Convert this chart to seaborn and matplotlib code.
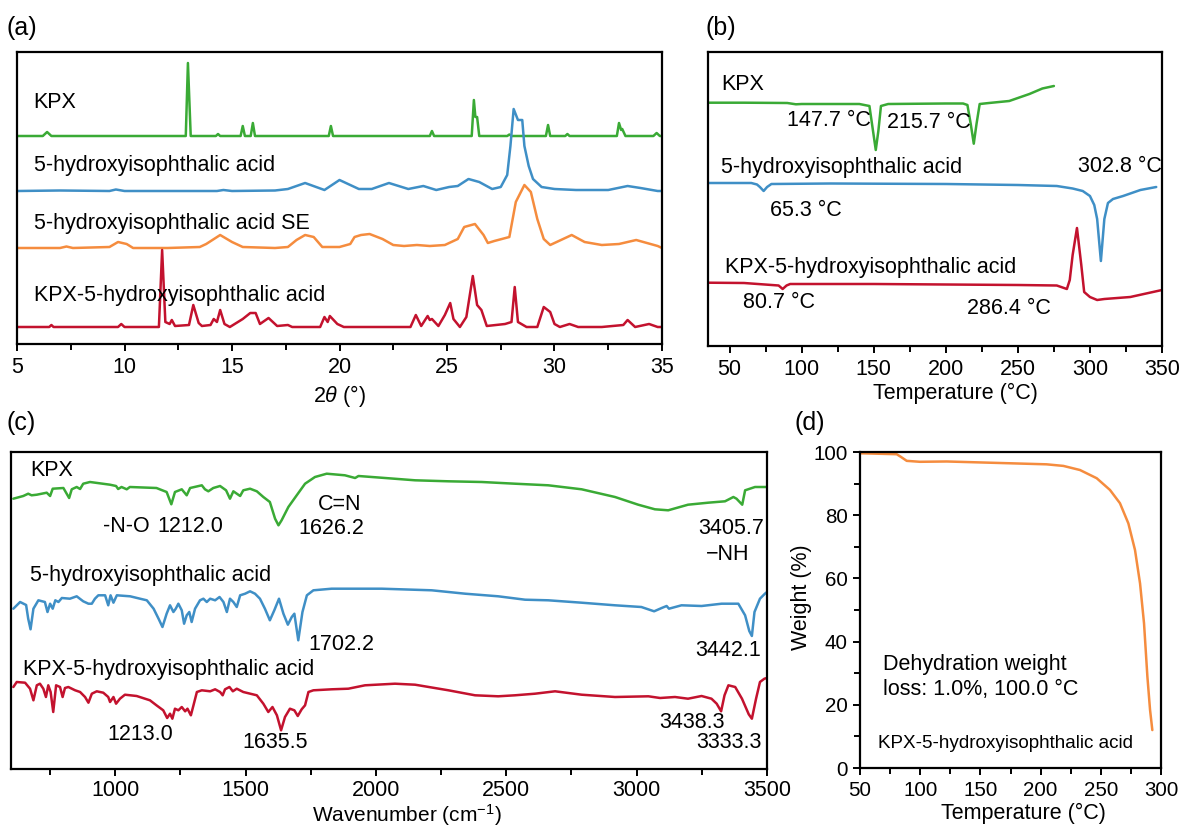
import numpy as np
import pandas as pd
import matplotlib
matplotlib.use("Agg")
import matplotlib.pyplot as plt
import seaborn as sns
from matplotlib.ticker import MultipleLocator

sns.set_style("ticks")
plt.rcParams['font.family'] = ['Liberation Sans', 'DejaVu Sans']
plt.rcParams['mathtext.fontset'] = 'custom'
plt.rcParams['mathtext.rm'] = 'Liberation Sans'
plt.rcParams['mathtext.it'] = 'Liberation Sans:italic'
plt.rcParams['axes.unicode_minus'] = True
for k in ['text.color', 'axes.labelcolor', 'xtick.color', 'ytick.color', 'axes.edgecolor']:
    plt.rcParams[k] = 'black'

# ---------------- colours ----------------
GREEN = "#3aaa35"
BLUE = "#3f8fc6"
ORANGE = "#f58c3e"
RED = "#c3122e"

# ---------------- (a) XRD data (intensity above each pattern's baseline, a.u.) ----------------
xrd_kpx_2theta = [5.0, 6.2, 6.4, 6.6, 12.85, 12.95, 13.08, 14.25, 14.35, 14.45, 15.4, 15.5, 15.6,
                  15.87, 15.97, 16.07, 19.5, 19.6, 19.7, 24.2, 24.3, 24.4, 26.15, 26.25, 26.32,
                  26.4, 26.5, 27.8, 27.9, 28.0, 29.6, 29.7, 29.8, 30.5, 30.6, 30.7, 32.9, 33.0,
                  33.1, 33.15, 33.3, 34.6, 34.75, 34.9, 35.0]
xrd_kpx_int = [0, 0, 4, 0, 0, 73, 0, 0, 2, 0, 0, 10, 0, 0, 13, 0, 0, 10, 0, 0, 5, 0, 0, 36, 19,
               19, 0, 0, 1.5, 0, 0, 11, 0, 0, 2, 0, 0, 13, 6, 7, 0, 0, 3, 0, 0]

xrd_acid_2theta = [5.0, 7.0, 9.3, 9.6, 10.0, 12.0, 14.3, 14.6, 15.0, 17.0, 17.6, 18.4, 19.3, 20.0,
                   20.9, 21.5, 22.3, 23.2, 23.9, 24.5, 25.1, 25.5, 26.0, 26.5, 27.1, 27.5, 27.8,
                   27.95, 28.1, 28.3, 28.5, 28.6, 28.8, 29.0, 29.4, 30.0, 31.0, 32.5, 33.4, 34.0,
                   34.8, 35.0]
xrd_acid_int = [0, 0.5, 0, 1.5, 0, 0, 0, 1, 0, 0.5, 2, 8, 1, 11, 2, 2, 8, 2, 5, 1, 4, 5, 12, 9, 2,
                4, 16, 45, 82, 71, 71, 45, 25, 12, 4, 2, 1, 1, 5, 3, 0, 0]

xrd_se_2theta = [5.0, 7.0, 7.3, 7.6, 9.3, 9.7, 10.1, 10.4, 12.0, 13.5, 13.8, 14.45, 15.0, 15.5, 17.0,
                 17.6, 18.0, 18.4, 18.8, 19.2, 20.0, 20.5, 20.7, 21.0, 21.4, 22.0, 22.5, 23.0, 23.6,
                 24.2, 24.9, 25.5, 25.8, 26.3, 26.7, 26.9, 27.2, 27.9, 28.2, 28.6, 28.9, 29.2, 29.5,
                 29.8, 30.3, 30.8, 31.4, 32.2, 33.0, 33.8, 34.8, 35.0]
xrd_se_int = [0, 0, 1.5, 0, 1, 6, 4, 0, 0, 1, 4, 13, 6, 1, 0, 1, 8, 13, 11, 1, 1, 4, 11, 13, 14, 9,
              3, 2, 3, 2, 3, 9, 21, 24, 13, 5, 7, 11, 46, 63, 56, 29, 9, 3, 8, 13, 6, 3, 4, 8, 2, 0]

xrd_cocrystal_2theta = [5.0, 6.5, 6.6, 6.7, 9.7, 9.85, 10.0, 11.6, 11.75, 11.9, 12.1, 12.2, 12.35,
                        13.0, 13.2, 13.45, 13.6, 14.0, 14.15, 14.3, 14.45, 14.65, 14.9, 15.5, 15.85,
                        16.1, 16.3, 16.7, 17.1, 17.6, 17.8, 19.1, 19.3, 19.45, 19.55, 19.9, 20.2,
                        23.3, 23.55, 23.8, 24.1, 24.2, 24.3, 24.6, 24.9, 25.15, 25.3, 25.6, 25.9,
                        26.2, 26.4, 26.6, 26.85, 27.7, 28.0, 28.15, 28.3, 28.7, 29.2, 29.5, 29.8,
                        30.0, 30.25, 30.7, 31.1, 32.2, 33.2, 33.4, 33.75, 34.4, 34.8, 35.0]
xrd_cocrystal_int = [0, 0, 2, 0, 0, 3, 0, 0, 77, 5, 3, 7, 1, 2, 22, 4, 1, 2, 8, 5, 17, 3, 0, 8, 14,
                     14, 3, 9, 1, 2, 0, 0, 10, 5, 11, 3, 0, 0, 12, 1, 11, 7, 8, 1, 12, 24, 8, 0, 10,
                     51, 22, 17, 1, 3, 5, 40, 5, 0, 0, 20, 15, 3, 0, 3, 0, 0, 2, 7, 0, 3, 0, 0]

# ---------------- (b) DSC data (heat flow, a.u.) ----------------
dsc_kpx_T = [35, 60, 90, 96, 100, 140, 147, 149.5, 151.4, 153.2, 155, 160, 200, 212, 215, 217.3,
             219.4, 221.3, 223.5, 230, 244, 258, 267, 275]
dsc_kpx_hf = [243.3, 243.3, 243, 241.7, 242, 242, 240, 215, 196, 215, 240, 242, 242.5, 242.5, 241,
              222, 202.3, 222, 242, 243, 245, 252, 257.5, 260]

dsc_acid_T = [35, 65, 69, 71, 73.6, 76, 79, 120, 200, 250, 277, 288, 295, 300, 303, 305, 307.6,
              310, 312.5, 316, 323, 335, 346]
dsc_acid_hf = [163, 163, 161.5, 159, 155, 159, 162, 162.5, 162, 161, 160, 157.5, 155, 150, 141,
               127, 85, 127, 143, 147, 150, 156, 159]

dsc_cocrystal_T = [35, 60, 84, 86.8, 89.5, 92, 150, 250, 277, 284, 286, 288, 291, 294, 296, 300,
                   305, 310, 328, 350]
dsc_cocrystal_hf = [63.3, 63, 60.5, 57, 60.5, 62, 62, 61, 60.5, 57, 66, 91, 118, 81, 54, 49, 46,
                    47, 49, 56]

# ---------------- (c) FTIR data (transmittance, a.u.) ----------------
ir_kpx_wn = [609, 647, 666, 679, 699, 737, 750, 760, 801, 823, 833, 852, 865, 877, 903, 980, 1003,
             1011, 1024, 1044, 1056, 1158, 1197, 1215, 1229, 1255, 1274, 1287, 1332, 1344, 1357,
             1376, 1402, 1425, 1440, 1453, 1479, 1491, 1517, 1543, 1568, 1593, 1613, 1626, 1638,
             1664, 1696, 1728, 1766, 1811, 1881, 1920, 1933, 2035, 2150, 2278, 2406, 2533, 2661,
             2789, 2917, 3006, 3070, 3121, 3197, 3274, 3339, 3371, 3383, 3405, 3416, 3454, 3492,
             3500]
ir_kpx_t = [270.3, 273, 275.3, 273.7, 274.3, 276.3, 273, 280.3, 281, 271, 279.7, 282, 280, 285.3,
            287, 284.3, 283, 280, 282, 279.7, 282, 281, 277, 264.7, 277, 279.7, 273.7, 281, 283.7,
            279.7, 277.7, 281, 283, 278.7, 270.3, 277.7, 273, 278.7, 280.3, 277.7, 272, 267, 250.3,
            243.7, 248.7, 262, 273.7, 285.3, 292, 295.3, 293.7, 291, 293, 291, 288.7, 287.7, 287,
            285.3, 283.7, 279.7, 272, 264.3, 259.7, 258.7, 264.3, 266.3, 267.7, 272, 270.3, 264.3,
            278.7, 282, 282, 282]

ir_acid_wn = [609, 635, 658, 666, 675, 686, 705, 730, 740, 750, 760, 770, 782, 795, 826, 852, 877,
              897, 910, 922, 935, 961, 973, 982, 993, 1006, 1057, 1095, 1121, 1147, 1166, 1181,
              1197, 1210, 1223, 1232, 1242, 1255, 1264, 1274, 1284, 1293, 1306, 1325, 1338, 1351,
              1364, 1383, 1400, 1415, 1428, 1440, 1453, 1466, 1479, 1498, 1517, 1536, 1555, 1574,
              1593, 1610, 1628, 1645, 1662, 1677, 1687, 1702, 1718, 1735, 1760, 1830, 2022, 2214,
              2342, 2469, 2572, 2661, 2789, 2917, 3018, 3067, 3096, 3115, 3124, 3172, 3249, 3326,
              3390, 3416, 3432, 3442, 3452, 3473, 3492, 3500]
ir_acid_t = [160.3, 167, 164, 150.3, 139.7, 160.3, 168.7, 167, 157, 165.3, 160.3, 168.7, 167, 171,
             170.3, 172.7, 167.7, 165.3, 165.3, 170.3, 173.7, 173.7, 163.7, 173.7, 166.3, 173.7,
             172.7, 170.3, 168.7, 160.3, 150.3, 142, 155.3, 163.7, 157, 160.3, 165.3, 158.7, 145.3,
             153.7, 157, 147, 160.3, 168.7, 170.3, 167, 170.3, 168.7, 172, 167, 157, 170.3, 167,
             162, 173.7, 175.3, 177.7, 175.3, 170.3, 160.3, 148.7, 158.7, 170.3, 155.3, 144.3, 152,
             155.3, 128.7, 157, 173.7, 178.7, 180.3, 180.3, 178.7, 175.3, 172.7, 169.3, 168.7,
             166.3, 163.7, 162, 157.7, 161, 163, 160.3, 163.7, 163, 165.3, 165.3, 153.7, 138,
             133, 157, 170.3, 175.3, 177]

ir_cocrystal_wn = [609, 622, 654, 673, 686, 699, 711, 724, 734, 743, 752, 762, 773, 788, 798, 807,
                   820, 846, 865, 884, 897, 910, 929, 954, 973, 980, 993, 1003, 1018, 1037, 1082,
                   1133, 1158, 1184, 1199, 1210, 1219, 1229, 1242, 1255, 1268, 1277, 1290, 1300,
                   1313, 1332, 1364, 1383, 1402, 1412, 1421, 1438, 1451, 1466, 1491, 1543, 1568,
                   1587, 1603, 1620, 1636, 1651, 1670, 1687, 1700, 1715, 1728, 1741, 1760, 1830,
                   1894, 1958, 2073, 2150, 2278, 2380, 2469, 2533, 2610, 2687, 2789, 2917, 3045,
                   3090, 3147, 3197, 3249, 3287, 3307, 3324, 3337, 3352, 3378, 3404, 3430, 3442,
                   3458, 3473, 3490, 3500]
ir_cocrystal_t = [82, 87, 86.3, 80.3, 68.7, 83.7, 85.3, 80.3, 72, 83.7, 77, 57, 83.7, 82, 72, 81,
                  82, 78.7, 77, 72, 66.3, 75.3, 77.7, 76.3, 72, 67, 72, 65.3, 70.3, 74.3, 73, 68.7,
                  63.7, 58.7, 51, 55.3, 50.3, 60.3, 58.7, 62, 57.7, 60.3, 53.7, 63.7, 77, 78.7, 77.7,
                  79.7, 77, 73.7, 79.7, 82, 77.7, 80.3, 77, 73.7, 65.3, 57, 62, 53.7, 38.7, 52,
                  60.3, 58.7, 53, 59.7, 63.7, 77, 78.7, 79.7, 80.3, 83.7, 85.3, 84.3, 78.7, 73.7,
                  72.7, 73.7, 75.3, 77.7, 74.3, 72, 72.7, 71, 72, 70.3, 73, 70.3, 65.3, 57.7, 73.7,
                  83.7, 82, 70.3, 54.7, 50.3, 70.3, 87, 90.3, 91]

# ---------------- (d) TGA data ----------------
tga_T = [50, 80.5, 83.8, 88.8, 99.8, 122, 149.7, 177.4, 205, 218.9, 232.7, 246.6, 257.6, 265.9,
         272.9, 278.4, 282.6, 285.9, 288.7, 290.9, 292.8]
tga_w = [99.6, 99.3, 98.5, 97.2, 96.9, 97.0, 96.7, 96.4, 96.1, 95.6, 94.3, 91.7, 88.0, 83.8, 77.4,
         69.0, 58.4, 45.8, 28.9, 18.4, 12.0]

# ---------------- layout constants ----------------
XRD_OFFSETS = [208, 153, 96, 17]

W, H = 1192, 830
fig = plt.figure(figsize=(W / 100, H / 100), dpi=100)


def rect(l, t, r, b):
    return [l / W, 1 - b / H, (r - l) / W, (b - t) / H]


axA = fig.add_axes(rect(17, 52, 662, 344))
axB = fig.add_axes(rect(708, 52, 1162, 346))
axC = fig.add_axes(rect(11, 452, 767, 769))
axD = fig.add_axes(rect(860, 452, 1161, 768))

LW = 1.8
TXT = 15.5
TICK = 15.5


def line(ax, x, y, color):
    df = pd.DataFrame({"x": x, "y": y})
    sns.lineplot(data=df, x="x", y="y", ax=ax, color=color, lw=LW, estimator=None,
                 sort=False, legend=False)


def style(ax, tick=TICK, pad=4):
    for s in ax.spines.values():
        s.set_linewidth(1.6)
        s.set_color("black")
    ax.tick_params(which="major", direction="out", length=5, width=1.4, labelsize=tick, pad=pad)
    ax.tick_params(which="minor", direction="out", length=4, width=1.4)
    ax.set_ylabel("")
    ax.set_xlabel("")


# ---- (a)
for (x, y, c), off in zip([(xrd_kpx_2theta, xrd_kpx_int, GREEN),
                           (xrd_acid_2theta, xrd_acid_int, BLUE),
                           (xrd_se_2theta, xrd_se_int, ORANGE),
                           (xrd_cocrystal_2theta, xrd_cocrystal_int, RED)], XRD_OFFSETS):
    line(axA, x, np.asarray(y) + off, c)
style(axA)
axA.set_xlim(5, 35)
axA.set_ylim(0, 292)
axA.set_yticks([])
axA.xaxis.set_major_locator(MultipleLocator(5))
axA.xaxis.set_minor_locator(MultipleLocator(2.5))
axA.set_xlabel(r"$2\theta$ (°)", fontsize=TICK, labelpad=4)
for t, yy in [("KPX", 242), ("5-hydroxyisophthalic acid", 178),
              ("5-hydroxyisophthalic acid SE", 120), ("KPX-5-hydroxyisophthalic acid", 49)]:
    axA.text(5.77, yy, t, fontsize=TXT, va="center", ha="left")

# ---- (b)
line(axB, dsc_kpx_T, dsc_kpx_hf, GREEN)
line(axB, dsc_acid_T, dsc_acid_hf, BLUE)
line(axB, dsc_cocrystal_T, dsc_cocrystal_hf, RED)
style(axB)
axB.set_xlim(35, 350)
axB.set_ylim(0, 294)
axB.set_yticks([])
axB.xaxis.set_major_locator(MultipleLocator(50))
axB.xaxis.set_minor_locator(MultipleLocator(25))
axB.set_xlabel("Temperature (°C)", fontsize=TICK)
axB.xaxis.set_label_coords(0.546, -0.16)
axB.xaxis.label.set_va("center")
for t, xx, yy in [("KPX", 44.4, 261), ("147.7 °C", 89.6, 225), ("215.7 °C", 159, 224),
                  ("5-hydroxyisophthalic acid", 43.7, 178), ("302.8 °C", 291.7, 179),
                  ("65.3 °C", 77.8, 135), ("KPX-5-hydroxyisophthalic acid", 46.5, 78),
                  ("80.7 °C", 59, 44), ("286.4 °C", 214.6, 37)]:
    axB.text(xx, yy, t, fontsize=TXT, va="center", ha="left")

# ---- (c)
line(axC, ir_kpx_wn, ir_kpx_t, GREEN)
line(axC, ir_acid_wn, ir_acid_t, BLUE)
line(axC, ir_cocrystal_wn, ir_cocrystal_t, RED)
style(axC, pad=3)
axC.set_xlim(600, 3500)
axC.set_ylim(0, 317)
axC.set_yticks([])
axC.xaxis.set_major_locator(MultipleLocator(500))
axC.xaxis.set_minor_locator(MultipleLocator(250))
axC.set_xlabel(r"Wavenumber (cm$^{-1}$)", fontsize=15)
axC.xaxis.set_label_coords(0.524, -0.146)
axC.xaxis.label.set_va("center")
for t, xx, yy in [("KPX", 673, 299), ("-N-O", 953, 242), ("1212.0", 1160, 242),
                  ("C=N", 1778, 265), ("1626.2", 1701, 241), ("3405.7", 3235, 240),
                  ("\u2212NH", 3266, 214), ("5-hydroxyisophthalic acid", 673, 194),
                  ("1702.2", 1739, 124), ("3442.1", 3224, 119),
                  ("KPX-5-hydroxyisophthalic acid", 646, 99), ("1213.0", 968, 34),
                  ("1635.5", 1486, 26), ("3438.3", 3086, 47), ("3333.3", 3228, 27)]:
    axC.text(xx, yy, t, fontsize=TXT, va="center", ha="left")

# ---- (d)
line(axD, tga_T, tga_w, ORANGE)
style(axD, tick=14.8)
axD.set_xlim(50, 300)
axD.set_ylim(0, 100)
axD.xaxis.set_major_locator(MultipleLocator(50))
axD.xaxis.set_minor_locator(MultipleLocator(25))
axD.yaxis.set_major_locator(MultipleLocator(20))
axD.yaxis.set_minor_locator(MultipleLocator(10))
axD.set_xlabel("Temperature (°C)", fontsize=TICK)
axD.xaxis.set_label_coords(0.542, -0.143)
axD.xaxis.label.set_va("center")
axD.set_ylabel("Weight (%)", fontsize=TICK)
axD.yaxis.set_label_coords(-0.196, 0.541)
axD.yaxis.label.set_va("center")
axD.text(69, 32.9, "Dehydration weight", fontsize=TXT, va="center", ha="left")
axD.text(69, 25.0, "loss: 1.0%, 100.0 °C", fontsize=TXT, va="center", ha="left")
axD.text(65, 7.6, "KPX-5-hydroxyisophthalic acid", fontsize=13.6, va="center", ha="left")

# ---- panel labels
for t, x, y in [("(a)", 7, 28), ("(b)", 705, 28), ("(c)", 7, 423), ("(d)", 795, 423)]:
    fig.text(x / W, 1 - y / H, t, fontsize=18, va="center", ha="left")

fig.savefig("out.png", dpi=100)
